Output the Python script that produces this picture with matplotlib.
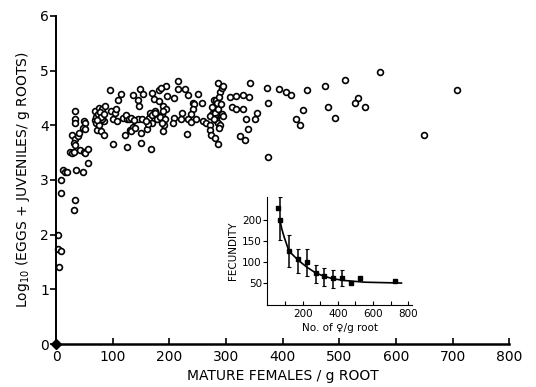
import matplotlib
matplotlib.use("Agg")
import matplotlib.pyplot as plt

plt.rcParams['font.family'] = ['DejaVu Sans']

# main scatter: mature females per g root vs log10(eggs + juveniles / g roots)
females = [95, 114, 110, 136, 148, 153, 144, 147, 169, 173, 181, 182,
           33, 33, 34, 49, 52, 47, 52, 69, 75, 81, 86, 72, 78, 84, 75,
           69, 70, 81, 72, 80, 84, 97, 104, 101, 107, 105, 119, 125, 123,
           121, 130, 136, 133, 139, 145, 151, 164, 169, 166, 175, 184, 187,
           150, 161, 100, 125, 150, 167, 28, 33, 31, 34, 39, 40, 25, 28, 31,
           43, 49, 52, 56, 56, 35, 47, 12, 16, 19, 9, 9, 33, 31, 3, 3, 9, 5,
           215, 194, 186, 215, 227, 195, 209, 233, 250, 258, 242, 244, 242,
           239, 223, 221, 209, 207, 189, 194, 189, 190, 189, 233, 239, 247,
           231, 259, 265, 272, 272, 273, 278, 283, 289, 292, 286, 295, 280,
           278, 275, 272, 280, 283, 292, 295, 281, 286, 307, 318, 330, 341,
           342, 310, 318, 330, 354, 351, 335, 339, 324, 333, 374, 374,
           373, 394, 406, 414, 443, 474, 509, 435, 424, 431, 479, 492, 532,
           528, 545, 571, 707, 649,
           284, 286, 288, 282, 285, 290, 288, 279, 276, 291,
           178, 183, 170, 162, 158, 192, 187, 175,
           70, 74, 78, 80, 84, 76, 73, 128, 133, 137]
log_eggs = [4.64, 4.57, 4.46, 4.55, 4.66, 4.57, 4.47, 4.36, 4.59, 4.48, 4.65, 4.44,
            4.26, 4.11, 4.05, 4.08, 4.05, 3.95, 3.94, 4.26, 4.32, 4.29, 4.35, 4.17,
            4.11, 4.08, 4.06, 4.09, 4.05, 4.12, 3.92, 3.89, 3.83, 4.26, 4.23, 4.11,
            4.08, 4.29, 4.14, 4.11, 4.18, 3.83, 3.92, 3.97, 3.89, 3.95, 4.12, 4.11,
            4.14, 4.05, 4.23, 4.26, 4.11, 4.20, 3.86, 3.94, 3.65, 3.61, 3.68, 3.57,
            3.83, 3.74, 3.68, 3.63, 3.80, 3.86, 3.52, 3.50, 3.52, 3.55, 3.52, 3.49,
            3.57, 3.31, 3.19, 3.15, 3.19, 3.15, 3.14, 3.00, 2.76, 2.63, 2.45, 2.00,
            1.74, 1.70, 1.40,
            4.81, 4.71, 4.69, 4.66, 4.66, 4.54, 4.49, 4.55, 4.57, 4.40, 4.41, 4.38,
            4.29, 4.20, 4.23, 4.11, 4.14, 4.05, 4.35, 4.29, 4.26, 4.01, 3.89, 4.11,
            4.06, 4.11, 3.84, 4.08, 4.05, 4.01, 3.92, 3.83, 4.47, 4.46, 4.60, 4.69,
            4.78, 4.72, 4.35, 4.26, 4.20, 4.17, 4.23, 4.14, 4.20, 4.17, 3.77, 3.65,
            4.52, 4.54, 4.55, 4.51, 4.77, 4.33, 4.30, 4.30, 4.23, 4.12, 4.11, 3.94,
            3.81, 3.73, 4.40, 3.42,
            4.69, 4.66, 4.61, 4.55, 4.65, 4.71, 4.83, 4.28, 4.12, 4.00, 4.34, 4.13,
            4.49, 4.41, 4.34, 4.97, 4.64, 3.82,
            4.40, 4.30, 4.52, 4.10, 4.05, 4.00, 3.95, 4.12, 4.33, 4.38,
            4.12, 4.15, 4.18, 4.02, 4.08, 4.12, 4.04, 4.22,
            4.15, 4.20, 4.25, 4.15, 4.20, 4.00, 4.10, 4.12, 4.14, 4.10]

# inset: fecundity vs number of females per g root
fec_x = [60, 71, 122, 173, 224, 276, 321, 372, 423, 474, 526, 724]
fec_y = [229, 200, 126, 107, 100, 74, 67, 62, 62, 52, 62, 55]
fec_hi = [229, 255, 164, 131, 131, 93, 86, 83, 81, 52, 62, 55]
fec_lo = [229, 152, 88, 74, 67, 50, 45, 40, 45, 52, 62, 55]
curve_x = [71, 81, 95, 122, 175, 223, 274, 323, 374, 440, 554, 762]
curve_y = [200, 180, 160, 127, 105, 89, 75, 67, 61, 57, 53, 51]

fig = plt.figure(figsize=(5.36, 3.87), dpi=100, facecolor='white')
ax = fig.add_axes([0.1045, 0.111, 0.846, 0.848])

ax.plot(females, log_eggs, 'o', ms=4.2, mfc='white', mec='black', mew=1.2,
        clip_on=False)
ax.plot([0], [0], 'D', ms=5, color='black', clip_on=False, zorder=5)

ax.set_xlim(0, 800)
ax.set_ylim(0, 6)
ax.set_xticks(range(0, 801, 100))
ax.set_yticks(range(0, 7))
for side in ['top', 'right']:
    ax.spines[side].set_visible(False)
ax.spines['left'].set_linewidth(1.4)
ax.spines['bottom'].set_linewidth(1.8)
ax.tick_params(axis='x', direction='in', length=4, width=1.2, labelsize=10, pad=4)
ax.tick_params(axis='y', direction='out', length=4, width=1.2, labelsize=10, pad=1)
ax.set_xlabel('MATURE FEMALES / g ROOT', fontsize=10, labelpad=4)
ax.set_ylabel(r'Log$_{10}$ (EGGS + JUVENILES/ g ROOTS)', fontsize=10, labelpad=6)

ins = fig.add_axes([0.499, 0.213, 0.269, 0.278])
ins.plot(curve_x, curve_y, color='black', lw=1.2)
yerr = [[y - lo for y, lo in zip(fec_y, fec_lo)],
        [hi - y for y, hi in zip(fec_y, fec_hi)]]
ins.errorbar(fec_x, fec_y, yerr=yerr, fmt='s', ms=2.2, color='black',
             ecolor='black', elinewidth=1.1, capsize=1.5, capthick=0.8)
ins.set_xlim(0, 820)
ins.set_ylim(0, 255)
ins.set_xticks([200, 400, 600, 800])
ins.set_xticks(range(100, 801, 100), minor=True)
ins.set_yticks([50, 100, 150, 200])
for side in ['top', 'right']:
    ins.spines[side].set_visible(False)
ins.tick_params(axis='both', which='both', labelsize=7.5, length=3, width=0.8)
ins.tick_params(axis='x', which='both', direction='in', pad=3)
ins.tick_params(axis='y', direction='out', pad=1)
ins.set_xlabel('No. of \u2640/g root', fontsize=7.5, labelpad=3)
ins.set_ylabel('FECUNDITY', fontsize=7.5, labelpad=3)

fig.savefig('out.png', dpi=100)
